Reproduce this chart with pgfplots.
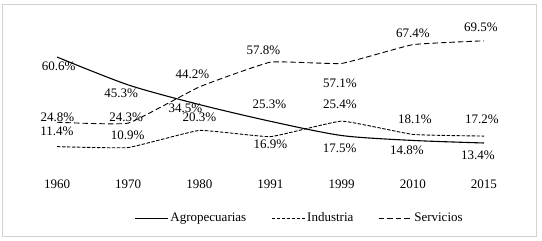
\documentclass[border=0pt]{standalone}
\usepackage{pgfplots}
\pgfplotsset{compat=1.18}
\usepackage{pgfplotstable}
\usepackage{fontspec}
\setmainfont{Liberation Serif}

\pgfplotstableread{
x y dx dy
0 60.6 1.7 -9
1 45.3 -7 -8.4
2 34.5 -14 -4
3 25.3 -1 17
4 17.5 -2 -12.8
5 14.8 -6 -9.6
6 13.4 -6 -12
}\agro
\pgfplotstableread{
x y dx dy
0 11.4 0 15
1 10.9 -0.5 12
2 20.3 0 13
3 16.9 0 -7.7
4 25.4 -1.7 17
5 18.1 2 15
6 17.2 -2 17
}\indu
\pgfplotstableread{
x y dx dy
0 24.8 0.5 5
1 24.3 -2 6
2 44.2 -7 13
3 57.8 -7 11.5
4 57.1 -1.7 -20
5 67.4 0 11
6 69.5 -3 14
}\serv

\pgfplotsset{
  mylabels/.style={
    forget plot, draw=none, mark=none, point meta=explicit,
    nodes near coords={\pgfmathprintnumber[fixed,fixed zerofill,precision=1,assume math mode=true]{\pgfplotspointmeta}\%},
    every node near coord/.append style={anchor=center, inner sep=0pt, font=\fontsize{13bp}{15bp}\selectfont, text=black},
  },
}

\begin{document}
\fontsize{13bp}{15bp}\selectfont
\begin{tikzpicture}
\path[use as bounding box] (-57bp,-73.6bp) rectangle (485bp,167.4bp);
\draw[gray!35, line width=1bp] (-54bp,-68.6bp) rectangle (479bp,162.4bp);
\begin{axis}[
  at={(0,0)}, anchor=south west,
  scale only axis, width=427bp, height=127.5bp,
  xmin=0, xmax=6, ymin=0, ymax=70,
  clip=false,
  axis line style={draw=none},
  major tick style={draw=none},
  ytick=\empty,
  xtick={0,...,6},
  xticklabels={1960,1970,1980,1991,1999,2010,2015},
  xticklabel style={anchor=center, yshift=-16.4bp, font=\fontsize{13bp}{15bp}\selectfont},
  legend image code/.code={\draw[#1] (0bp,0bp) -- (33bp,0bp);},
  legend style={draw=none, legend columns=3, at={(0.568,-0.399)}, anchor=center,
    font=\fontsize{13bp}{15bp}\selectfont,
    nodes={inner sep=2bp},
    /tikz/every even column/.append style={column sep=23bp}},
  legend cell align=left,
]
\addplot[black, line width=1.1bp, smooth, tension=0.45, mark=none] table[x=x,y=y] {\agro};
\addlegendentry{Agropecuarias}
\addplot[black, line width=0.9bp, dash pattern=on 3.5bp off 1.5bp, smooth, tension=0.2, mark=none] table[x=x,y=y] {\indu};
\addlegendentry{Industria}
\addplot[black, line width=0.9bp, dash pattern=on 5.5bp off 3bp, smooth, tension=0.2, mark=none] table[x=x,y=y] {\serv};
\addlegendentry{Servicios}
\addplot[mylabels] table[x expr=\thisrow{x}+\thisrow{dx}/71.1667, y expr=\thisrow{y}+\thisrow{dy}/1.82143, meta=y] {\agro};
\addplot[mylabels] table[x expr=\thisrow{x}+\thisrow{dx}/71.1667, y expr=\thisrow{y}+\thisrow{dy}/1.82143, meta=y] {\indu};
\addplot[mylabels] table[x expr=\thisrow{x}+\thisrow{dx}/71.1667, y expr=\thisrow{y}+\thisrow{dy}/1.82143, meta=y] {\serv};
\end{axis}
\end{tikzpicture}
\end{document}
